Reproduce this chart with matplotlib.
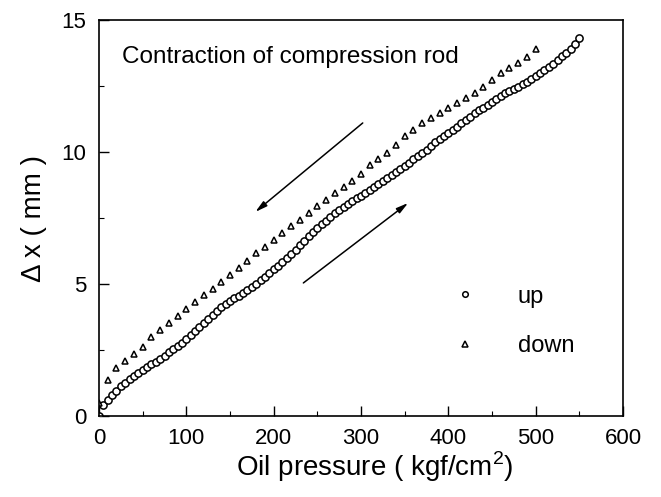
import matplotlib
matplotlib.use("Agg")
import matplotlib.pyplot as plt
from matplotlib.lines import Line2D

plt.rcParams['font.family'] = ['Liberation Sans', 'DejaVu Sans']
plt.rcParams['mathtext.fontset'] = 'custom'
plt.rcParams['mathtext.rm'] = 'Liberation Sans'

# ---- data ----
up_x = list(range(0, 551, 5))
up_y = [0.00, 0.40, 0.62, 0.80, 0.96, 1.12, 1.26, 1.40, 1.52, 1.62,
        1.74, 1.86, 1.96, 2.06, 2.17, 2.28, 2.41, 2.52, 2.64, 2.78,
        2.92, 3.06, 3.22, 3.38, 3.54, 3.68, 3.84, 3.98, 4.12, 4.24,
        4.35, 4.46, 4.56, 4.67, 4.78, 4.90, 5.00, 5.14, 5.28, 5.42,
        5.56, 5.70, 5.84, 5.98, 6.14, 6.30, 6.48, 6.64, 6.80, 6.96,
        7.12, 7.26, 7.40, 7.54, 7.68, 7.79, 7.90, 8.02, 8.13, 8.24,
        8.34, 8.45, 8.56, 8.67, 8.78, 8.89, 9.00, 9.12, 9.24, 9.36,
        9.48, 9.60, 9.72, 9.84, 9.96, 10.08, 10.22, 10.36, 10.48, 10.60,
        10.72, 10.84, 10.96, 11.08, 11.20, 11.34, 11.46, 11.58, 11.68, 11.78,
        11.90, 12.00, 12.12, 12.22, 12.30, 12.38, 12.46, 12.56, 12.64, 12.76,
        12.86, 12.98, 13.10, 13.22, 13.34, 13.48, 13.62, 13.76, 13.92, 14.10,
        14.32]

down_x = list(range(0, 501, 10))
down_y = [0.50, 1.36, 1.80, 2.08, 2.35, 2.63, 2.98, 3.25, 3.52, 3.78,
          4.04, 4.32, 4.58, 4.82, 5.06, 5.33, 5.60, 5.88, 6.16, 6.42,
          6.68, 6.93, 7.20, 7.44, 7.68, 7.94, 8.18, 8.45, 8.66, 8.90,
          9.17, 9.50, 9.72, 9.98, 10.25, 10.62, 10.85, 11.08, 11.28, 11.46,
          11.66, 11.84, 12.04, 12.24, 12.48, 12.74, 13.00, 13.18, 13.38, 13.58,
          13.90]

series_labels = ["up", "down"]
x_ticks = [0, 100, 200, 300, 400, 500, 600]
y_ticks = [0, 5, 10, 15]
annotation = "Contraction of compression rod"
xlabel = "Oil pressure ( kgf/cm$^{2}$)"
ylabel = "Δ x ( mm )"

# arrows: (tail, head) in data units
arrow_down = ((302, 11.1), (179, 7.73))
arrow_up = ((234, 5.04), (354, 8.07))

# ---- figure ----
fig = plt.figure(figsize=(6.61, 4.97), dpi=100)
ax = fig.add_axes([99/661, 1-416/497, 524/661, 396/497])

ax.plot(up_x, up_y, linestyle='none', marker='o', markersize=5.2,
        markerfacecolor='white', markeredgecolor='black', markeredgewidth=1.1)
ax.plot(down_x, down_y, linestyle='none', marker='^', markersize=5.0,
        markerfacecolor='white', markeredgecolor='black', markeredgewidth=1.1)

ax.set_xlim(0, 600)
ax.set_ylim(0, 15)
ax.set_xticks(x_ticks)
ax.set_yticks(y_ticks)
ax.set_xticks([50, 150, 250, 350, 450, 550], minor=True)
ax.set_yticks([2.5, 7.5, 12.5], minor=True)
ax.tick_params(which='major', direction='in', length=7, width=1.0,
               labelsize=16, pad=9, top=False, right=False)
ax.tick_params(which='minor', direction='in', length=3.5, width=0.8,
               top=False, right=False)
for s in ax.spines.values():
    s.set_linewidth(1.2)

ax.set_xlabel(xlabel, fontsize=20)
ax.set_ylabel(ylabel, fontsize=20)
ax.xaxis.set_label_coords(0.526, -0.085)
ax.yaxis.set_label_coords(-0.10, 0.5)

ax.text(0.044, 0.907, annotation, transform=ax.transAxes, fontsize=17.5,
        ha='left', va='center')

for tail, head in (arrow_down, arrow_up):
    ax.annotate('', xy=head, xytext=tail,
                arrowprops=dict(arrowstyle='-|>,head_length=0.7,head_width=0.18',
                                color='black', lw=1.1, shrinkA=0, shrinkB=0))

handles = [Line2D([], [], linestyle='none', marker='o', markersize=4,
                  markerfacecolor='white', markeredgecolor='black', markeredgewidth=1.1),
           Line2D([], [], linestyle='none', marker='^', markersize=4,
                  markerfacecolor='white', markeredgecolor='black', markeredgewidth=1.1)]
ax.legend(handles, series_labels, loc='upper left', bbox_to_anchor=(0.675, 0.329),
          frameon=False, fontsize=17, handlelength=1.0, handletextpad=1.75,
          borderpad=0, borderaxespad=0, labelspacing=1.15)

fig.savefig("out.png", dpi=100)
